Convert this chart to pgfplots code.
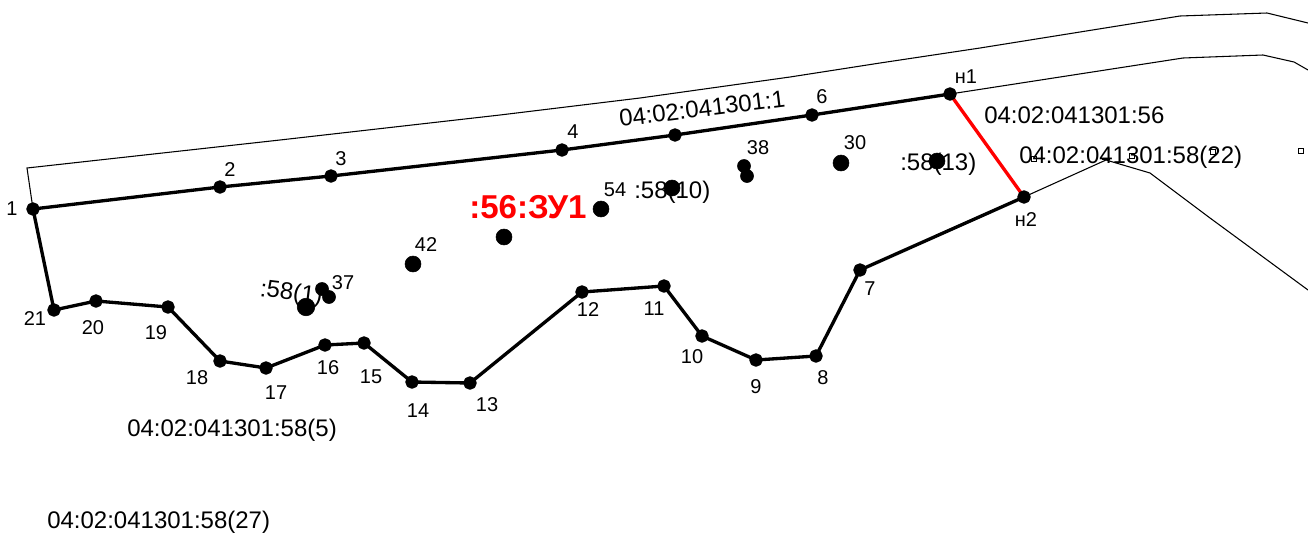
\documentclass[border=0pt]{standalone}
\usepackage{fontspec}
\setmainfont{Liberation Sans}
\usepackage{pgfplots}
\pgfplotsset{compat=1.18}
\pgfplotsset{
  plan/.style={
    at={(0,0)}, anchor=south west,
    scale only axis, width=981pt, height=402pt,
    xmin=0, xmax=1308, ymin=0, ymax=536,
    y dir=reverse, hide axis, clip=false,
  },
}
\tikzset{
  big/.style={font=\fontsize{18}{18}\selectfont, anchor=base west, inner sep=0pt},
  num/.style={font=\fontsize{15}{15}\selectfont, anchor=center, inner sep=0pt},
}
\begin{document}
\begin{tikzpicture}
  \useasboundingbox (0,0) rectangle (981pt,402pt);
  \begin{axis}[plan]
    % neighbouring parcels, thin
    \addplot[black, line width=0.8pt] coordinates {
      (33,209) (27,168) (280,140) (500,115) (640,98) (790,77) (880,63)
      (980,48) (1180,16) (1267,13) (1308,23)
    };
    \addplot[black, line width=0.8pt] coordinates {
      (950,94) (1183,58) (1263,55) (1294,62) (1308,70)
    };
    \addplot[black, line width=0.8pt] coordinates {
      (1024,197) (1106,160) (1150,173) (1210,218) (1308,290)
    };
    % small squares
    \addplot[only marks, mark=square, mark size=1.8pt, mark options={line width=0.7pt}] coordinates {
      (1034,159) (1132,156) (1213,152) (1301,151)
    };
    \addplot[only marks, mark=-, mark size=3pt, mark options={line width=0.6pt}] coordinates {
      (1106,159)
    };
    \addplot[only marks, mark=*, mark size=0.5pt, gray] coordinates {
      (231,428) (159,522)
    };
    % parcel boundary
    \addplot[black, line width=2.5pt, line join=round, mark=*, mark size=3.8pt] coordinates {
      (950,94) (812,115) (675,135) (562,150) (331,176) (220,187) (33,209)
      (54,310) (96,301) (168,307) (220,361) (266,368) (325,345) (364,343)
      (412,382) (470,383) (582,292) (664,286) (702,336) (756,360) (816,356)
      (860,270) (1024,197)
    };
    \addplot[red, line width=2.5pt] coordinates {(950,94) (1024,197)};

    \node[big] at (axis cs:984,123) {04:02:041301:56};
    \node[big] at (axis cs:1019,163) {04:02:041301:58(22)};
    \node[big, rotate=7] at (axis cs:620,127) {04:02:041301:1};
    \node[big] at (axis cs:900,170) {:58(13)};
    \node[big] at (axis cs:634,198) {:58(10)};
    \node[big, rotate=-7] at (axis cs:259,296) {:58(1)};
    \node[big] at (axis cs:127,436) {04:02:041301:58(5)};
    \node[big] at (axis cs:47,528) {04:02:041301:58(27)};
    \node[font=\fontsize{24.8}{25}\selectfont\bfseries, text=red, anchor=base west, inner sep=0pt]
      at (axis cs:469,218) {:56:ЗУ1};

    \node[num] at (axis cs:12,209) {1};
    \node[num] at (axis cs:230,170) {2};
    \node[num] at (axis cs:341,159) {3};
    \node[num] at (axis cs:573,132) {4};
    \node[num] at (axis cs:822,97) {6};
    \node[num] at (axis cs:966,77) {н1};
    \node[num] at (axis cs:1026,220) {н2};
    \node[num] at (axis cs:870,289) {7};
    \node[num] at (axis cs:823,378) {8};
    \node[num] at (axis cs:756,387) {9};
    \node[num] at (axis cs:692,357) {10};
    \node[num] at (axis cs:654,309) {11};
    \node[num] at (axis cs:588,310) {12};
    \node[num] at (axis cs:487,405) {13};
    \node[num] at (axis cs:418,411) {14};
    \node[num] at (axis cs:371,377) {15};
    \node[num] at (axis cs:328,368) {16};
    \node[num] at (axis cs:276,393) {17};
    \node[num] at (axis cs:197,378) {18};
    \node[num] at (axis cs:156,333) {19};
    \node[num] at (axis cs:93,328) {20};
    \node[num] at (axis cs:35,319) {21};
    \node[num] at (axis cs:343,283) {37};
    \node[num] at (axis cs:758,148) {38};
    \node[num] at (axis cs:855,143) {30};
    \node[num] at (axis cs:426,245) {42};
    \node[num] at (axis cs:615,190) {54};
  \end{axis}
  % second axis so the blobs sit over the labels
  \begin{axis}[plan]
    \addplot[only marks, mark=*, mark size=6pt] coordinates {
      (413,264) (504,237) (601,209) (672,188) (841,163) (937,161)
    };
    \addplot[only marks, mark=*, mark size=6.6pt] coordinates {(306,307)};
    \addplot[only marks, mark=*, mark size=4.9pt] coordinates {
      (322,289) (329,297) (744,166) (747,176)
    };
  \end{axis}
\end{tikzpicture}
\end{document}
